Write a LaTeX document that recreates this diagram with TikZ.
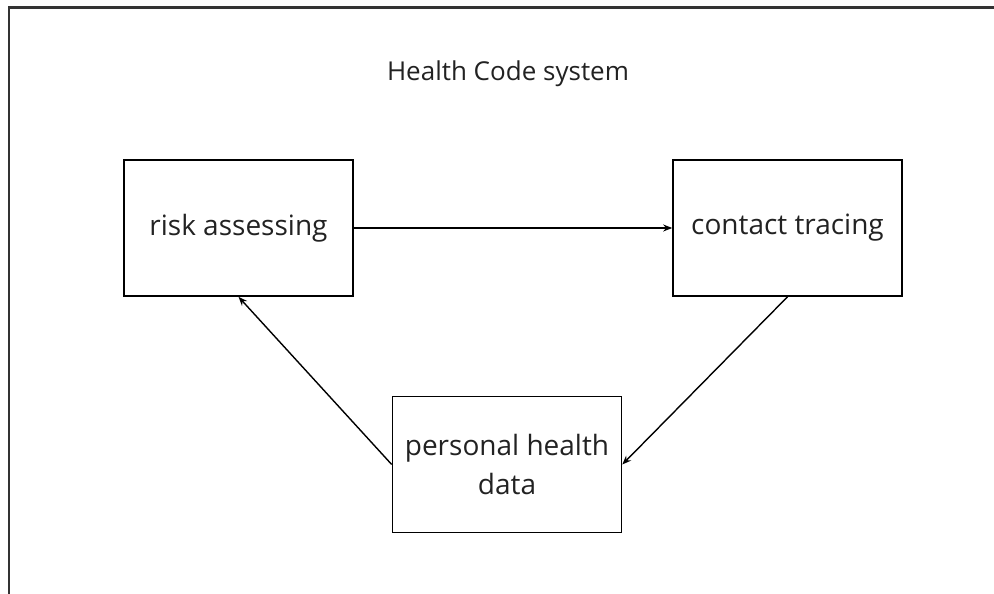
\documentclass[tikz,border=0pt]{standalone}
\usepackage{fontspec}
\setmainfont{Open Sans}
\usetikzlibrary{arrows.meta}
\definecolor{framec}{HTML}{333333}
\definecolor{textc}{HTML}{222222}
\begin{document}
\begin{tikzpicture}[x=1pt,y=-1pt,
  box/.style={draw=black,line width=1.6pt,minimum width=229pt,minimum height=136pt,inner sep=0pt,align=center,font=\fontsize{28}{39}\selectfont,text=textc},
  conn/.style={draw=black,line width=1.4pt,-{Stealth[length=9pt,width=7pt]}}]
\useasboundingbox (0,0) rectangle (994,594);
\draw[framec,line width=2.2pt] (9,620) -- (9,7.5) -- (1010,7.5);
\node[font=\fontsize{26}{30}\selectfont,text=textc] (title) at (508,74) {Health Code system};
\node[box] (risk) at (238.5,228) {risk assessing};
\node[box] (contact) at (787.5,228) {contact tracing};
\node[box] (data) at (507,464.5) {personal health\\data};
\draw[conn] (risk.east) -- (contact.west);
\draw[conn] (contact.south) -- (data.east);
\draw[conn] (data.west) -- (risk.south);
\end{tikzpicture}
\end{document}
